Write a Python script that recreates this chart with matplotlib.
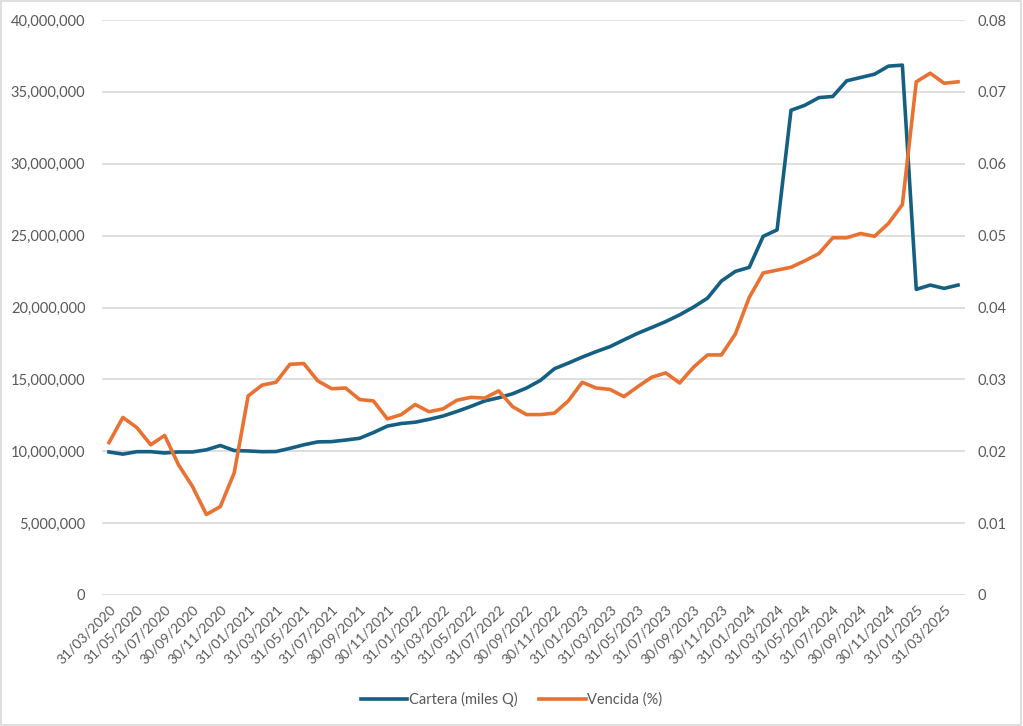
import numpy as np
import pandas as pd
import matplotlib
matplotlib.use("Agg")
import matplotlib.pyplot as plt
from matplotlib.ticker import FuncFormatter
from matplotlib.patches import Rectangle

plt.rcParams['font.family'] = ['Lato', 'DejaVu Sans']

# fechas (fin de mes, marzo 2020 - abril 2025)
fechas = pd.date_range("2020-03-31", "2025-04-30", freq="ME")
etiquetas = [f.strftime("%d/%m/%Y") for f in fechas]

# cartera en millones (miles Q)
cartera = [9.95, 9.80, 9.97, 9.97, 9.88, 9.95, 9.95, 10.10, 10.40, 10.05,
           10.02, 9.97, 9.98, 10.20, 10.45, 10.65, 10.67, 10.78, 10.90, 11.30,
           11.75, 11.93, 12.02, 12.22, 12.45, 12.77, 13.12, 13.50, 13.72, 14.00,
           14.40, 14.93, 15.74, 16.13, 16.55, 16.93, 17.28, 17.75, 18.21, 18.61,
           19.02, 19.49, 20.03, 20.65, 21.84, 22.51, 22.79, 24.95, 25.40, 33.72,
           34.07, 34.60, 34.68, 35.77, 36.00, 36.23, 36.79, 36.86, 21.26, 21.56,
           21.33, 21.56]
cartera = np.array(cartera) * 1e6

# cartera vencida (%)
vencida = [0.0212, 0.0247, 0.0233, 0.0209, 0.0222, 0.0181, 0.0151, 0.0112, 0.0123, 0.0170,
           0.0277, 0.0292, 0.0296, 0.0321, 0.0322, 0.0298, 0.0287, 0.0288, 0.0272, 0.0270,
           0.0245, 0.0251, 0.0265, 0.0255, 0.0259, 0.0271, 0.0275, 0.0274, 0.0284, 0.0262,
           0.0251, 0.0251, 0.0253, 0.0270, 0.0296, 0.0288, 0.0286, 0.0276, 0.0290, 0.0303,
           0.0309, 0.0295, 0.0317, 0.0334, 0.0334, 0.0363, 0.0414, 0.0448, 0.0452, 0.0456,
           0.0465, 0.0475, 0.0497, 0.0497, 0.0503, 0.0499, 0.0517, 0.0543, 0.0714, 0.0726,
           0.0712, 0.0714]

azul = "#156082"
naranja = "#E97132"
gris = "#595959"

fig = plt.figure(figsize=(10.23, 7.26), dpi=100)
ax = fig.add_axes([102/1023, 1-595/726, (965-102)/1023, (595-20)/726])
ax2 = ax.twinx()

x = np.arange(len(fechas))
l1, = ax.plot(x, cartera, color=azul, lw=2.6, label="Cartera (miles Q)", solid_joinstyle="round")
l2, = ax2.plot(x, vencida, color=naranja, lw=2.6, label="Vencida (%)", solid_joinstyle="round")
ax2.set_zorder(ax.get_zorder() + 1)

ax.set_xlim(-0.5, len(x) - 0.5)
ax.set_ylim(0, 40e6)
ax2.set_ylim(0, 0.08)
ax.set_yticks(np.arange(0, 40e6 + 1, 5e6))
ax2.set_yticks(np.arange(0, 0.081, 0.01))
ax.yaxis.set_major_formatter(FuncFormatter(lambda v, p: f"{v:,.0f}"))
ax2.yaxis.set_major_formatter(FuncFormatter(lambda v, p: "0" if v == 0 else f"{v:.2f}"))
ax.grid(axis="y", color="#D9D9D9", lw=1.2)
ax.set_axisbelow(True)

ax.set_xticks(x[::2])
ax.set_xticklabels(etiquetas[::2], rotation=45, ha="right", rotation_mode="anchor")

for a in (ax, ax2):
    for s in a.spines.values():
        s.set_visible(False)
    a.tick_params(length=0, labelsize=10.5, colors=gris)
ax.tick_params(axis="x", labelsize=10)
ax.tick_params(axis="y", pad=12)
ax2.tick_params(axis="y", pad=9)
ax.tick_params(axis="x", pad=6)

fig.legend(handles=[l1, l2], loc="lower center", bbox_to_anchor=(0.5, 0.008), ncol=2,
           frameon=False, fontsize=10.5, labelcolor=gris, handlelength=3.2,
           handletextpad=0.1, columnspacing=1.5)

fig.patches.append(Rectangle((0.001, 0.001), 0.997, 0.997, transform=fig.transFigure,
                             fill=False, edgecolor="#D9D9D9", lw=1.2))

plt.savefig("out.png", dpi=100)
